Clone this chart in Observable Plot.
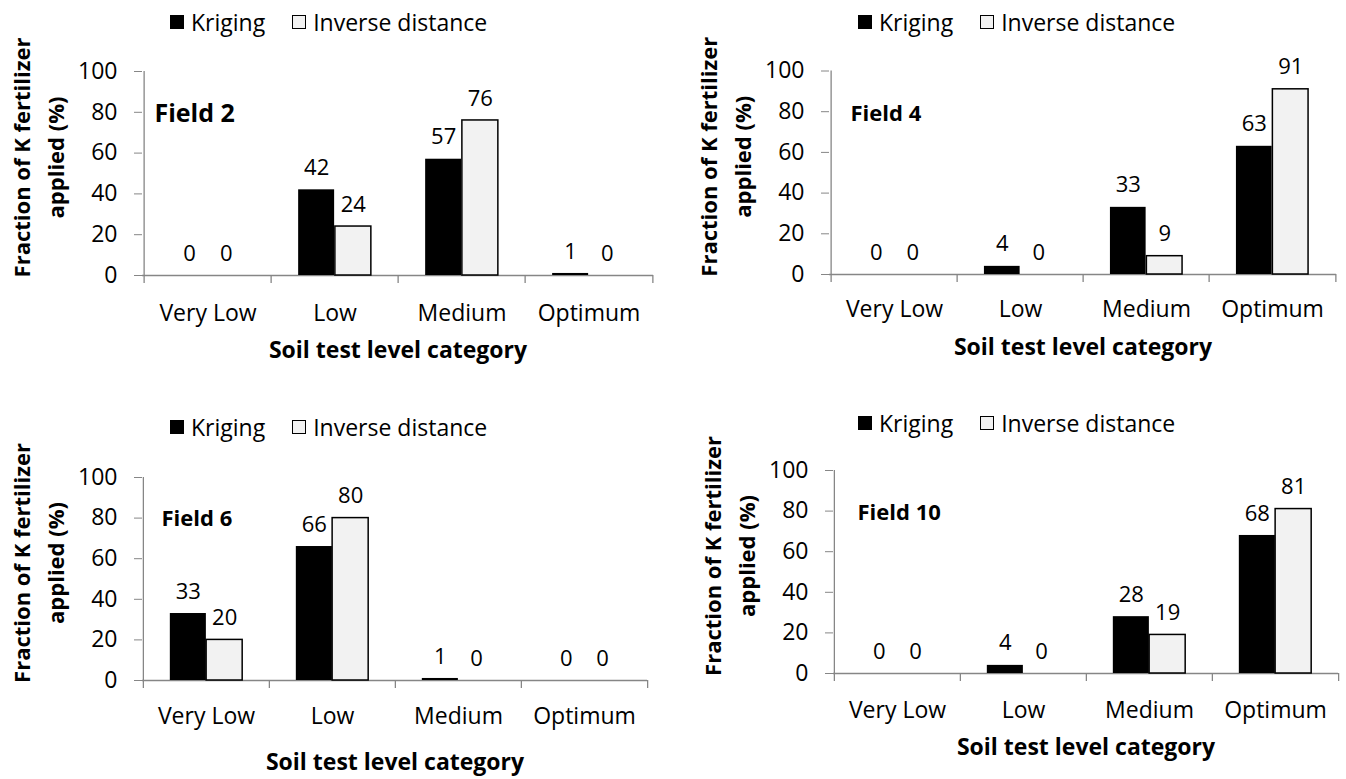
<!DOCTYPE html>
<html>
<head>
<meta charset="utf-8">
<script src="https://cdn.jsdelivr.net/npm/d3@7"></script>
<script src="https://cdn.jsdelivr.net/npm/@observablehq/plot@0.6"></script>
<style>
  body { margin: 0; background: #fff; }
  #root { position: relative; width: 1346px; height: 779px; overflow: hidden; font-family: "Open Sans", sans-serif; background: #fff; }
  .panel { position: absolute; }
  .legend { position: absolute; display: flex; align-items: center; height: 24px; font-size: 23px; line-height: 1; color: #000; white-space: nowrap; }
  .sw { width: 14px; height: 14px; box-sizing: border-box; }
  svg [aria-label="y-axis tick"] { stroke: #868686; }
  svg [aria-label="y-axis tick label"] { stroke: none; fill: #000; }
</style>
</head>
<body>
<div id="root"></div>
<script>
// ---- data ----
const categories = ["Very Low", "Low", "Medium", "Optimum"];
const seriesNames = ["Kriging", "Inverse distance"];
const fieldNames = ["Field 2", "Field 4", "Field 6", "Field 10"];
const krigingField2 = [0, 42, 57, 1];
const inverseField2 = [0, 24, 76, 0];
const krigingField4 = [0, 4, 33, 63];
const inverseField4 = [0, 0, 9, 91];
const krigingField6 = [33, 66, 1, 0];
const inverseField6 = [20, 80, 0, 0];
const krigingField10 = [0, 4, 28, 68];
const inverseField10 = [0, 0, 19, 81];
const yTicks = [0, 20, 40, 60, 80, 100];
const yTitleLines = ["Fraction of K fertilizer", "applied (%)"];
const xTitle = "Soil test level category";

const krigingSets = [krigingField2, krigingField4, krigingField6, krigingField10];
const inverseSets = [inverseField2, inverseField4, inverseField6, inverseField10];

// ---- layout (positions only) ----
const layout = [
  {left: 0,   top: 40,  width: 673, height: 340, ml: 142, mr: 20, mt: 31,   mb: 105, catPad: 29, xTitleDy: 75, fieldDx: 12, fieldDy: 42, fieldSize: 25, legendX: 170, legendY: 22},
  {left: 673, top: 40,  width: 673, height: 340, ml: 156, mr: 10, mt: 30.5, mb: 106, catPad: 26, xTitleDy: 73, fieldDx: 21, fieldDy: 43, fieldSize: 22, legendX: 858, legendY: 22},
  {left: 0,   top: 440, width: 673, height: 339, ml: 142, mr: 26, mt: 37,   mb: 99,  catPad: 27, xTitleDy: 82, fieldDx: 19, fieldDy: 41, fieldSize: 22, legendX: 170, legendY: 427},
  {left: 673, top: 440, width: 673, height: 339, ml: 160, mr: 8,  mt: 30,   mb: 106, catPad: 28, xTitleDy: 74, fieldDx: 24, fieldDy: 42, fieldSize: 22, legendX: 858, legendY: 423}
];

const AXIS = "#868686";
const DARK = "#000000";
const LIGHT = "#f2f2f2";

const root = document.getElementById("root");

function drawPanel(p, field, krig, inv) {
  const rows = categories.flatMap((c, i) => [
    {category: c, series: seriesNames[0], value: krig[i]},
    {category: c, series: seriesNames[1], value: inv[i]}
  ]);
  const kRows = rows.filter(d => d.series === seriesNames[0]);
  const iRows = rows.filter(d => d.series === seriesNames[1]);
  const fw = p.width - p.ml - p.mr;
  const bw = fw / categories.length;
  const barW = 0.2875 * bw;
  const outer = (bw - 2 * barW) / 2;

  const chart = Plot.plot({
    width: p.width,
    height: p.height,
    marginLeft: p.ml,
    marginRight: p.mr,
    marginTop: p.mt,
    marginBottom: p.mb,
    style: {fontFamily: "'Open Sans', sans-serif", fontSize: "23px", background: "transparent", overflow: "visible", color: "#000"},
    x: {type: "band", domain: categories, padding: 0},
    y: {domain: [0, 100]},
    marks: [
      // x axis line
      Plot.ruleY([0], {stroke: AXIS, strokeWidth: 1.3}),
      // y axis line (with tick below baseline)
      Plot.ruleX([categories[0]], {x: d => d, y1: 100, y2: 0, dx: -bw / 2, insetBottom: -8, stroke: AXIS, strokeWidth: 1.3}),
      // category boundary ticks
      Plot.ruleX(categories.slice(1), {x: d => d, y1: 0, y2: 0, dx: -bw / 2, insetBottom: -8, stroke: AXIS, strokeWidth: 1.3}),
      Plot.ruleX([categories[categories.length - 1]], {x: d => d, y1: 0, y2: 0, dx: bw / 2, insetBottom: -8, stroke: AXIS, strokeWidth: 1.3}),
      Plot.axisY({ticks: yTicks, tickSize: 8, tickPadding: 17, fontSize: 23, stroke: AXIS, fill: "#000", label: null, tickFormat: d => String(d)}),
      Plot.axisX({tickSize: 0, tickPadding: p.catPad, fontSize: 23, fill: "#000", label: null}),
      // bars
      Plot.barY(kRows, {x: "category", y: "value", fill: DARK, insetLeft: outer, insetRight: outer + barW}),
      Plot.barY(iRows.filter(d => d.value > 0), {x: "category", y: "value", fill: LIGHT, stroke: DARK, strokeWidth: 1.5, insetLeft: outer + barW, insetRight: outer}),
      // value labels
      Plot.text(kRows, {x: "category", y: "value", text: d => String(d.value), dx: -barW / 2, dy: -22, fontSize: 22, fill: "#000", lineAnchor: "middle"}),
      Plot.text(iRows, {x: "category", y: "value", text: d => String(d.value), dx: barW / 2, dy: -22, fontSize: 22, fill: "#000", lineAnchor: "middle"}),
      // field label
      Plot.text([field], {text: d => d, frameAnchor: "top-left", dx: p.fieldDx, dy: p.fieldDy, textAnchor: "start", lineAnchor: "middle", fontWeight: "bold", fontSize: p.fieldSize, fill: "#000"}),
      // x title
      Plot.text([xTitle], {text: d => d, frameAnchor: "bottom", dy: p.xTitleDy, textAnchor: "middle", lineAnchor: "middle", fontWeight: "bold", fontSize: 23, fill: "#000"}),
      // y title (two lines)
      Plot.text([yTitleLines[0]], {text: d => d, frameAnchor: "left", rotate: -90, dx: -120, dy: -16, textAnchor: "middle", lineAnchor: "middle", fontWeight: "bold", fontSize: 22, fill: "#000"}),
      Plot.text([yTitleLines[1]], {text: d => d, frameAnchor: "left", rotate: -90, dx: -86, dy: -16, textAnchor: "middle", lineAnchor: "middle", fontWeight: "bold", fontSize: 22, fill: "#000"})
    ]
  });
  chart.classList.add("panel");
  chart.style.left = p.left + "px";
  chart.style.top = p.top + "px";
  chart.style.position = "absolute";
  root.appendChild(chart);

  // legend (HTML, above the svg)
  const lg = document.createElement("div");
  lg.className = "legend";
  lg.style.left = p.legendX + "px";
  lg.style.top = (p.legendY - 12) + "px";
  const fills = [DARK, LIGHT];
  seriesNames.forEach((name, i) => {
    const sw = document.createElement("span");
    sw.className = "sw";
    sw.style.background = fills[i];
    if (i === 1) { sw.style.border = "1.5px solid #000"; sw.style.marginLeft = "27px"; }
    sw.style.marginRight = "7px";
    const t = document.createElement("span");
    t.textContent = name;
    lg.appendChild(sw);
    lg.appendChild(t);
  });
  root.appendChild(lg);
}

layout.forEach((p, i) => drawPanel(p, fieldNames[i], krigingSets[i], inverseSets[i]));
</script>
</body>
</html>
